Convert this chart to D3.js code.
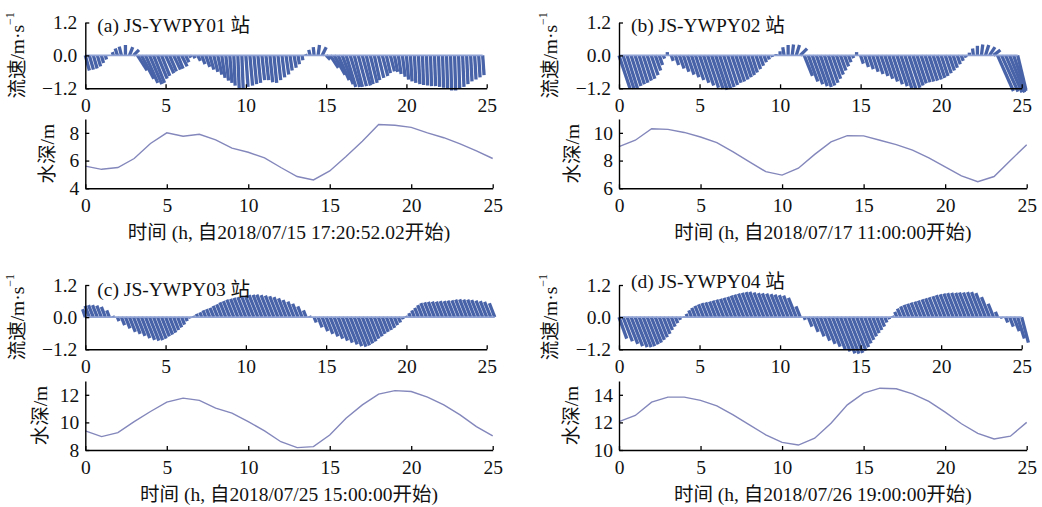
<!DOCTYPE html>
<html><head><meta charset="utf-8">
<script src="https://cdn.jsdelivr.net/npm/d3@7"></script>
<style>
body{margin:0;background:#fff}
svg text{font-family:"Liberation Serif","Noto Sans CJK SC",serif;fill:#111}
</style></head><body>
<svg id="c" width="1042" height="507"></svg>
<script>
// ---------------- data ----------------
const stickStep = 0.25; // hours between current samples
const velTicks = [-1.2, 0, 1.2];
const timeTicks = [0, 5, 10, 15, 20, 25];
const depthHours = [0,1,2,3,4,5,6,7,8,9,10,11,12,13,14,15,16,17,18,19,20,21,22,23,24,25];

const titles = ["(a) JS-YWPY01 站", "(b) JS-YWPY02 站", "(c) JS-YWPY03 站", "(d) JS-YWPY04 站"];
const xLabels = ["时间 (h, 自2018/07/15 17:20:52.02开始)", "时间 (h, 自2018/07/17 11:00:00开始)",
                 "时间 (h, 自2018/07/25 15:00:00开始)", "时间 (h, 自2018/07/26 19:00:00开始)"];
const depthDomains = [[4, 9], [6, 11], [8, 13], [10, 15]];
const depthTicks = [[4, 6, 8], [6, 8, 10], [8, 10, 12], [10, 12, 14]];

// current components (m/s): v = vertical component, u = horizontal component
const vA = [-0.55,-0.52,-0.48,-0.4,-0.28,-0.15,0,0.12,0.25,0.32,0.38,0.3,0.2,
  -0.55,-0.85,-1.0,-1.05,-1.0,-0.85,-0.75,
  -0.65,-0.58,-0.52,-0.48,-0.4,-0.25,-0.08,-0.1,
  -0.2,-0.32,-0.42,-0.52,-0.6,-0.7,-0.82,-0.92,
  -1.0,-1.1,-1.2,-1.22,-1.15,-1.1,-1.05,-1.0,
  -0.9,-0.9,-0.98,-1.0,-0.9,-0.8,-0.7,-0.55,
  -0.45,-0.32,-0.18,0.05,0.2,0.3,0.38,0.3,
  -0.15,-0.45,-0.7,-0.9,-1.05,-1.15,-1.15,-1.15,
  -1.12,-1.1,-1.05,-1.0,-0.9,-0.82,-0.75,-0.65,
  -0.58,-0.6,-0.68,-0.78,-0.88,-0.95,-1.0,-1.05,
  -1.08,-1.1,-1.12,-1.12,-1.15,-1.18,-1.22,-1.28,
  -1.28,-1.22,-1.15,-1.05,-0.95,-0.88,-0.8,-0.72];
const uA = [0.15,0.15,0.14,0.12,0.08,0.04,0,-0.04,-0.08,-0.08,0.0,0.12,0.2,
  0.35,0.45,0.45,0.45,0.4,0.35,0.3,
  0.3,0.25,0.25,0.2,0.2,0.12,0.05,0.05,
  0.1,0.12,0.15,0.15,0.15,0.15,0.12,0.1,
  0.08,0.05,0.05,0.05,0.08,0.1,0.1,0.1,
  0.1,0.1,0.1,0.1,0.1,0.1,0.1,0.08,
  0.08,0.05,0.03,-0.02,-0.05,-0.03,0.05,0.15,
  0.15,0.3,0.4,0.4,0.4,0.35,0.35,0.3,
  0.3,0.3,0.25,0.25,0.2,0.2,0.2,0.15,
  0.15,0.12,0.1,0.1,0.08,0.06,0.05,0.05,
  0.04,0.04,0.04,0.04,0.04,0.04,0.04,0.04,
  0.04,0.04,0.05,0.05,0.05,0.05,0.05,0.05];

const vB = [-1.2,-1.22,-1.2,-1.12,-1.05,-1.0,-0.92,-0.85,-0.72,-0.55,-0.35,-0.12,0.12,
  -0.2,-0.35,-0.48,-0.6,-0.7,-0.8,-0.9,-1.0,-1.1,-1.18,-1.22,-1.25,
  -1.22,-1.15,-1.08,-1.0,-0.95,-0.88,-0.8,-0.72,-0.62,-0.5,-0.38,-0.25,-0.15,-0.06,0.05,0.15,
  0.3,0.38,0.4,0.38,0.25,
  -0.75,-0.95,-1.05,-1.12,-1.15,-1.1,-1.0,-0.85,-0.7,-0.55,-0.4,-0.25,-0.1,0.12,
  -0.3,-0.42,-0.5,-0.6,-0.68,-0.75,-0.85,-0.95,-1.05,-1.12,-1.2,-1.22,-1.18,-1.1,-1.02,-0.98,-0.95,-0.92,-0.88,-0.82,-0.75,-0.65,-0.55,-0.45,-0.32,-0.2,-0.08,
  0.1,0.25,0.35,0.4,0.38,0.3,
  0.2,-1.3,-1.32,-1.35,-1.35,-1.3,-1.25];
const uB = [0.4,0.4,0.38,0.36,0.34,0.32,0.3,0.28,0.25,0.2,0.12,0.05,0,
  0.07,0.12,0.17,0.2,0.24,0.27,0.3,0.34,0.37,0.4,0.42,0.42,
  0.4,0.38,0.36,0.34,0.32,0.3,0.27,0.24,0.2,0.17,0.13,0.09,0.05,0.02,0,0,
  -0.05,0,0.05,0.12,0.25,
  0.3,0.35,0.38,0.4,0.4,0.38,0.35,0.3,0.25,0.2,0.15,0.09,0.04,0,
  0.1,0.14,0.17,0.2,0.23,0.26,0.29,0.32,0.35,0.38,0.4,0.4,0.4,0.37,0.34,0.33,0.32,0.31,0.3,0.28,0.25,0.22,0.19,0.15,0.11,0.07,0.03,
  0,-0.03,0,0.05,0.12,0.2,
  0.25,0.58,0.6,0.6,0.55,0.45,0.3];

const vC = [0.3,0.42,0.45,0.45,0.43,0.38,0.25,0.05,
  -0.15,-0.3,-0.42,-0.55,-0.62,-0.7,-0.78,-0.85,-0.88,-0.86,-0.8,-0.72,-0.65,-0.58,-0.48,-0.38,-0.28,-0.15,-0.05,
  0.05,0.12,0.18,0.25,0.3,0.35,0.42,0.48,0.55,0.6,0.65,0.68,0.72,0.75,0.78,0.8,0.82,0.83,0.84,0.82,0.8,0.78,0.75,0.7,0.64,0.58,0.5,0.4,0.25,0.05,
  -0.2,-0.38,-0.52,-0.62,-0.72,-0.8,-0.88,-0.95,-1.02,-1.08,-1.1,-1.05,-0.98,-0.9,-0.8,-0.72,-0.62,-0.55,-0.48,-0.4,-0.3,-0.2,-0.08,
  0.05,0.15,0.25,0.35,0.45,0.52,0.55,0.57,0.58,0.58,0.6,0.6,0.62,0.63,0.65,0.66,0.65,0.65,0.64,0.62,0.6,0.57,0.52];
const uC = [-0.1,-0.16,-0.18,-0.18,-0.17,-0.15,-0.1,-0.02,
  0.06,0.12,0.17,0.22,0.25,0.28,0.31,0.34,0.35,0.34,0.32,0.29,0.26,0.23,0.19,0.15,0.11,0.06,0.02,
  -0.02,-0.05,-0.07,-0.1,-0.12,-0.14,-0.17,-0.19,-0.22,-0.24,-0.26,-0.27,-0.29,-0.3,-0.31,-0.32,-0.33,-0.33,-0.34,-0.33,-0.32,-0.31,-0.3,-0.28,-0.26,-0.23,-0.2,-0.16,-0.1,-0.02,
  0.08,0.15,0.21,0.25,0.29,0.32,0.35,0.38,0.41,0.43,0.44,0.42,0.39,0.36,0.32,0.29,0.25,0.22,0.19,0.16,0.12,0.08,0.03,
  -0.02,-0.06,-0.1,-0.14,-0.18,-0.21,-0.22,-0.23,-0.23,-0.23,-0.24,-0.24,-0.25,-0.25,-0.26,-0.26,-0.26,-0.26,-0.26,-0.25,-0.24,-0.23,-0.2];

const vD = [-0.8,-0.9,-1.0,-1.08,-1.12,-1.12,-1.08,-1.02,-0.95,-0.85,-0.75,-0.62,-0.48,-0.35,-0.22,-0.1,
  0.02,0.12,0.25,0.35,0.42,0.48,0.52,0.55,0.58,0.62,0.65,0.68,0.72,0.76,0.8,0.84,0.88,0.91,0.93,0.94,0.92,0.9,0.89,0.88,0.86,0.84,0.82,0.8,0.72,
  0.4,
  -0.1,-0.35,-0.55,-0.72,-0.88,-1.0,-1.1,-1.2,-1.28,-1.35,-1.36,-1.33,-1.25,-1.12,-0.98,-0.85,-0.72,-0.6,-0.48,-0.35,-0.2,-0.08,
  0.05,0.2,0.32,0.4,0.46,0.5,0.54,0.58,0.62,0.66,0.7,0.74,0.78,0.82,0.85,0.88,0.9,0.91,0.91,0.92,0.92,0.93,0.93,0.9,0.75,0.5,0.2,
  -0.05,-0.2,-0.35,-0.52,-0.8,-0.95];
const uD = [0.29,0.35,0.4,0.43,0.45,0.45,0.43,0.41,0.38,0.34,0.3,0.25,0.19,0.14,0.09,0.04,
  -0.01,-0.05,-0.1,-0.14,-0.17,-0.19,-0.21,-0.22,-0.23,-0.25,-0.26,-0.27,-0.29,-0.3,-0.32,-0.34,-0.35,-0.36,-0.37,-0.38,-0.37,-0.36,-0.36,-0.35,-0.34,-0.34,-0.33,-0.32,-0.29,
  -0.16,
  0.04,0.14,0.22,0.29,0.35,0.4,0.44,0.48,0.51,0.54,0.54,0.53,0.5,0.45,0.39,0.34,0.29,0.24,0.19,0.14,0.08,0.03,
  -0.02,-0.08,-0.13,-0.16,-0.18,-0.2,-0.22,-0.23,-0.25,-0.26,-0.28,-0.3,-0.31,-0.33,-0.34,-0.35,-0.36,-0.36,-0.36,-0.37,-0.37,-0.37,-0.37,-0.36,-0.3,-0.2,-0.08,
  0.02,0.08,0.14,0.21,0.25,0.25];

const depthA = [5.6,5.37,5.5,6.15,7.23,8.0,7.76,7.9,7.5,6.9,6.6,6.2,5.5,4.85,4.6,5.25,6.3,7.4,8.6,8.55,8.4,8.0,7.65,7.2,6.7,6.15];
const depthB = [9.0,9.47,10.3,10.25,10.03,9.7,9.3,8.63,7.9,7.2,6.95,7.45,8.45,9.35,9.8,9.78,9.47,9.15,8.75,8.2,7.55,6.9,6.48,6.85,8.0,9.15];
const depthC = [9.38,8.97,9.26,10.06,10.79,11.47,11.76,11.6,11.03,10.67,10.06,9.38,8.6,8.17,8.24,9.09,10.3,11.27,12.05,12.3,12.24,11.83,11.27,10.55,9.7,9.02];
const depthD = [12.06,12.5,13.47,13.83,13.83,13.6,13.2,12.55,11.82,11.1,10.55,10.36,10.85,11.94,13.27,14.12,14.48,14.44,14.07,13.52,12.74,11.9,11.2,10.8,11.0,12.0];

const uSeries = [uA, uB, uC, uD];
const vSeries = [vA, vB, vC, vD];
const depthSeries = [depthA, depthB, depthC, depthD];

// ---------------- layout ----------------
const cols = [
  {stickX: [85.3, 486.7], depthX: [85.3, 492.7], velLabelX: 17},
  {stickX: [619, 1021.7], depthX: [619, 1026.7], velLabelX: 550}
];
const rows = [
  {stickY: [88.3, 22.5], depthY: [188.3, 119], xLabelY: 232},
  {stickY: [349.3, 285], depthY: [450, 381], xLabelY: 494}
];
const depthLabelX = [47, 572, 40, 571];
const titleY = [25, 25, 289, 281];

const svg = d3.select("#c");
const FS = 19.5;
const stickColor = "#4963a9";

function styleAxis(g) {
  g.selectAll("path.domain").attr("stroke", "#000").attr("stroke-width", 1.4);
  g.selectAll(".tick line").attr("stroke", "#000").attr("stroke-width", 1.3);
  g.selectAll("text").attr("font-size", FS).attr("font-family", '"Liberation Serif", serif').attr("fill", "#111");
}
const fmtVel = d => d === 0 ? "0.0" : (d < 0 ? "\u2212" + Math.abs(d).toFixed(1) : d.toFixed(1));

for (let p = 0; p < 4; p++) {
  const col = cols[p % 2], row = rows[Math.floor(p / 2)];
  const u = uSeries[p], v = vSeries[p];
  const times = v.map((_, i) => i * stickStep);

  // ---- stick plot ----
  const xs = d3.scaleLinear().domain([0, 25]).range(col.stickX);
  const ys = d3.scaleLinear().domain([-1.2, 1.2]).range(row.stickY);
  const pxPerUnit = ys(0) - ys(1);
  const gS = svg.append("g");
  gS.selectAll("line.stick").data(times).join("line")
    .attr("class", "stick")
    .attr("x1", d => xs(d)).attr("y1", ys(0))
    .attr("x2", (d, i) => xs(d) + u[i] * pxPerUnit).attr("y2", (d, i) => ys(v[i]))
    .attr("stroke", stickColor).attr("stroke-width", 3.3).attr("stroke-linecap", "butt");
  gS.append("line")
    .attr("x1", xs(times[0])).attr("x2", xs(times[times.length - 1]))
    .attr("y1", ys(0)).attr("y2", ys(0))
    .attr("stroke", "#8ea1d2").attr("stroke-width", 1.6);

  const axL = svg.append("g").attr("transform", `translate(${col.stickX[0]},0)`)
    .call(d3.axisLeft(ys).tickValues(velTicks).tickFormat(fmtVel).tickSizeInner(-4).tickSizeOuter(0).tickPadding(8));
  styleAxis(axL);
  const axB = svg.append("g").attr("transform", `translate(0,${row.stickY[0]})`)
    .call(d3.axisBottom(xs).tickValues(timeTicks).tickFormat(d3.format("d")).tickSizeInner(-4).tickSizeOuter(0).tickPadding(10));
  styleAxis(axB);

  svg.append("text").attr("x", col.stickX[0] + 12).attr("y", titleY[p])
    .attr("dominant-baseline", "central").attr("font-size", FS).text(titles[p]);

  const vt = svg.append("text")
    .attr("transform", `translate(${col.velLabelX},${(row.stickY[0] + row.stickY[1]) / 2}) rotate(-90)`)
    .attr("text-anchor", "middle").attr("dominant-baseline", "central").attr("font-size", FS);
  vt.append("tspan").text("流速/m·s");
  vt.append("tspan").attr("font-size", 12).attr("dy", -7).text("\u22121");

  // ---- water depth ----
  const xd = d3.scaleLinear().domain([0, 25]).range(col.depthX);
  const yd = d3.scaleLinear().domain(depthDomains[p]).range(row.depthY);
  svg.append("path").datum(depthSeries[p])
    .attr("fill", "none").attr("stroke", "#8387bb").attr("stroke-width", 1.4)
    .attr("d", d3.line().x((d, i) => xd(depthHours[i])).y(d => yd(d)));

  const axL2 = svg.append("g").attr("transform", `translate(${col.depthX[0]},0)`)
    .call(d3.axisLeft(yd).tickValues(depthTicks[p]).tickFormat(d3.format("d")).tickSizeInner(-4).tickSizeOuter(0).tickPadding(6));
  styleAxis(axL2);
  const axB2 = svg.append("g").attr("transform", `translate(0,${row.depthY[0]})`)
    .call(d3.axisBottom(xd).tickValues(timeTicks).tickFormat(d3.format("d")).tickSizeInner(-4).tickSizeOuter(0).tickPadding(10));
  styleAxis(axB2);

  svg.append("text")
    .attr("transform", `translate(${depthLabelX[p]},${(row.depthY[0] + row.depthY[1]) / 2}) rotate(-90)`)
    .attr("text-anchor", "middle").attr("dominant-baseline", "central").attr("font-size", FS)
    .text("水深/m");

  svg.append("text").attr("x", (col.depthX[0] + col.depthX[1]) / 2).attr("y", row.xLabelY)
    .attr("text-anchor", "middle").attr("dominant-baseline", "central").attr("font-size", FS)
    .text(xLabels[p]);
}
</script>
</body></html>
